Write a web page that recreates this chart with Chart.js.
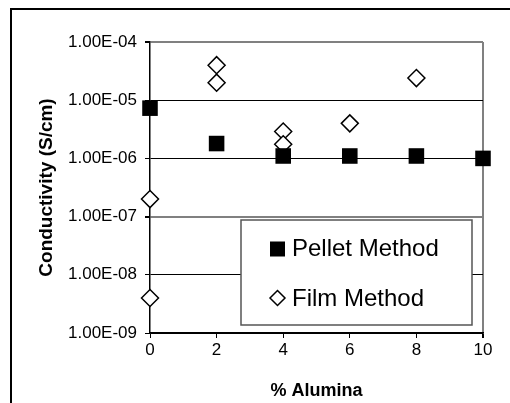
<!DOCTYPE html>
<html>
<head>
<meta charset="utf-8">
<script src="https://cdn.jsdelivr.net/npm/chart.js@4/dist/chart.umd.min.js"></script>
<style>
  html, body { margin: 0; padding: 0; background: #fff; }
  #wrap { position: relative; width: 510px; height: 403px; }
</style>
</head>
<body>
<div id="wrap"><canvas id="myChart" width="510" height="403"></canvas></div>
<script>
const seriesNames = ['Pellet Method', 'Film Method'];

const pelletX = [0, 2, 4, 6, 8, 10];
const pelletY = [7.3e-6, 1.8e-6, 1.1e-6, 1.1e-6, 1.1e-6, 1.0e-6];

const filmX = [0, 0, 2, 2, 4, 4, 6, 8];
const filmY = [2.0e-7, 4.0e-9, 4.0e-5, 2.0e-5, 2.9e-6, 1.75e-6, 4.0e-6, 2.4e-5];

const yTicks = [1e-9, 1e-8, 1e-7, 1e-6, 1e-5, 1e-4];
const yTickLabels = ['1.00E-09', '1.00E-08', '1.00E-07', '1.00E-06', '1.00E-05', '1.00E-04'];
const xTicks = [0, 2, 4, 6, 8, 10];

const FONT = "'Liberation Sans', Arial, sans-serif";

function toPoints(xs, ys) {
    return xs.map((x, i) => ({x: x, y: ys[i]}));
}

// outer frame of the picture
const framePlugin = {
    id: 'frame',
    beforeDraw(chart) {
        const c = chart.ctx;
        c.save();
        c.fillStyle = '#fff';
        c.fillRect(0, 0, chart.width, chart.height);
        c.strokeStyle = '#000';
        c.lineWidth = 2;
        c.beginPath();
        c.moveTo(11, chart.height + 5);
        c.lineTo(11, 9);
        c.lineTo(chart.width + 5, 9);
        c.stroke();
        c.restore();
    }
};

// legend box sitting inside the plot
const boxLegend = {
    id: 'boxLegend',
    afterDatasetsDraw(chart) {
        const c = chart.ctx;
        c.save();
        c.fillStyle = '#fff';
        c.fillRect(241, 220, 231, 105);
        c.strokeStyle = '#555';
        c.lineWidth = 1.5;
        c.strokeRect(241, 220, 231, 105);

        // square
        c.fillStyle = '#000';
        c.fillRect(270, 241.5, 15, 15);
        // diamond
        c.beginPath();
        c.moveTo(277.5 - 7.5, 298);
        c.lineTo(277.5, 298 - 7.5);
        c.lineTo(277.5 + 7.5, 298);
        c.lineTo(277.5, 298 + 7.5);
        c.closePath();
        c.fillStyle = '#fff';
        c.fill();
        c.strokeStyle = '#000';
        c.lineWidth = 1.5;
        c.stroke();

        c.fillStyle = '#000';
        c.font = '24px ' + FONT;
        c.textBaseline = 'alphabetic';
        c.fillText(chart.data.datasets[0].label, 292, 256);
        c.fillText(chart.data.datasets[1].label, 292, 306);
        c.restore();
    }
};

const ctx = document.getElementById('myChart');

const data = {
    datasets: [
        {
            label: seriesNames[0],
            data: toPoints(pelletX, pelletY),
            pointStyle: 'rect',
            pointRadius: 11,
            backgroundColor: '#000',
            borderColor: '#000',
            borderWidth: 0,
            clip: false,
        },
        {
            label: seriesNames[1],
            data: toPoints(filmX, filmY),
            pointStyle: 'rectRot',
            pointRadius: 8.5,
            backgroundColor: '#fff',
            borderColor: '#000',
            borderWidth: 1.5,
            clip: false,
        },
    ]
};

const config = {
    type: 'scatter',
    data: data,
    plugins: [framePlugin, boxLegend],
    options: {
        responsive: false,
        animation: false,
        events: [],
        layout: {
            padding: {left: 0, top: 42, right: 27, bottom: 0}
        },
        plugins: {
            legend: {display: false},
            tooltip: {enabled: false}
        },
        scales: {
            x: {
                type: 'linear',
                min: 0,
                max: 10,
                afterBuildTicks: (scale) => { scale.ticks = xTicks.map(v => ({value: v})); },
                afterFit: (scale) => { scale.height = 70; },
                ticks: {
                    color: '#000',
                    padding: 2,
                    maxRotation: 0,
                    font: {family: FONT, size: 17}
                },
                grid: {
                    color: (c) => (c.tick && c.tick.value === 10) ? '#808080' : 'rgba(0,0,0,0)',
                    lineWidth: (c) => (c.tick && c.tick.value === 10) ? 2 : 1,
                    tickColor: '#000',
                    tickLength: 5
                },
                border: {color: '#000', width: 1.5},
                title: {
                    display: true,
                    text: '% Alumina',
                    color: '#000',
                    padding: {top: 0, bottom: 1},
                    font: {family: FONT, size: 18, weight: 'bold'}
                }
            },
            y: {
                type: 'logarithmic',
                min: 1e-9,
                max: 1e-4,
                afterBuildTicks: (scale) => { scale.ticks = yTicks.map(v => ({value: v})); },
                afterFit: (scale) => { scale.width = 150; },
                ticks: {
                    color: '#000',
                    padding: 8,
                    font: {family: FONT, size: 17},
                    callback: (value, index) => yTickLabels[index]
                },
                grid: {
                    color: (c) => (c.tick && (c.tick.value === 1e-4 || c.tick.value === 1e-7)) ? '#808080' : '#000',
                    lineWidth: (c) => (c.tick && (c.tick.value === 1e-4 || c.tick.value === 1e-7)) ? 2 : 1,
                    tickColor: '#000',
                    tickLength: 5
                },
                border: {color: '#000', width: 1.5},
                title: {
                    display: true,
                    text: 'Conductivity (S/cm)',
                    color: '#000',
                    padding: {top: 35, bottom: 0},
                    font: {family: FONT, size: 19, weight: 'bold'}
                }
            }
        }
    }
};

new Chart(ctx, config);
</script>
</body>
</html>
